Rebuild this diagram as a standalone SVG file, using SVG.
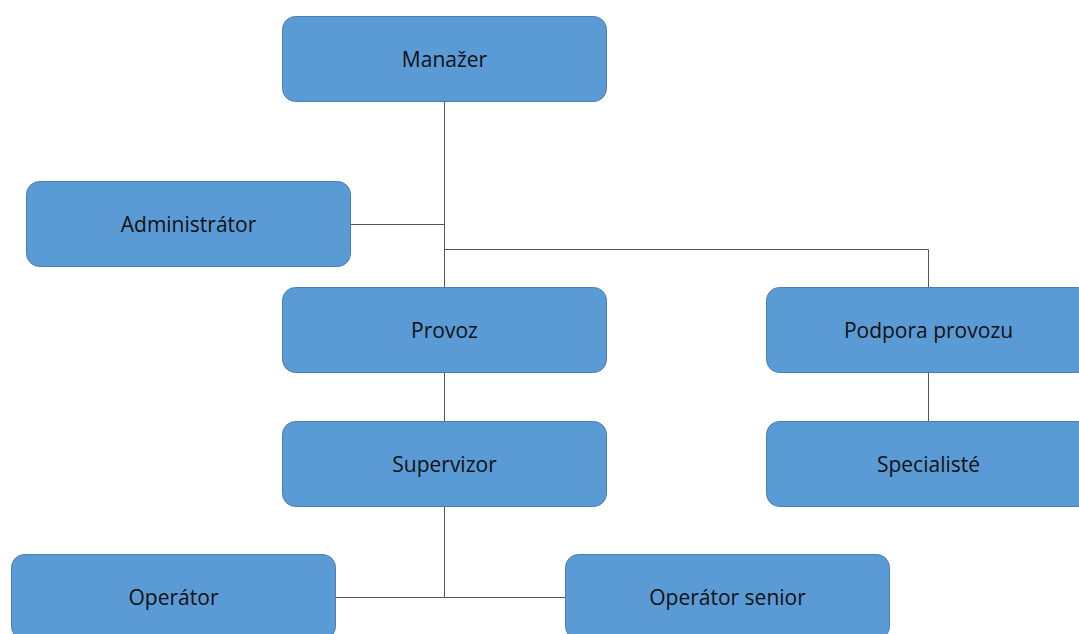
<svg xmlns="http://www.w3.org/2000/svg" width="1079" height="634" viewBox="0 0 1079 634">
<style>
.box{fill:#5B9BD5;stroke:#4A7EB0;stroke-width:1}
.lbl{font-family:"Open Sans","Liberation Sans",sans-serif;font-size:21px;fill:#111;text-anchor:middle;dominant-baseline:central}
.conn{stroke:#555;stroke-width:1;fill:none}
</style>
<rect width="1079" height="634" fill="#fff"/>
<g id="connectors">
<path class="conn" d="M444.5 101V287"/>
<path class="conn" d="M350 224.5H444.5"/>
<path class="conn" d="M444.5 249.5H928.5V287"/>
<path class="conn" d="M444.5 372V421"/>
<path class="conn" d="M928.5 372V421"/>
<path class="conn" d="M444.5 506V597.5"/>
<path class="conn" d="M335 597.5H565"/>
</g>
<g id="manazer"><rect class="box" x="282.5" y="16.5" width="324" height="85" rx="13"/><text class="lbl" x="444.5" y="59">Manažer</text></g>
<g id="administrator"><rect class="box" x="26.5" y="181.5" width="324" height="85" rx="13"/><text class="lbl" x="188.5" y="224">Administrátor</text></g>
<g id="provoz"><rect class="box" x="282.5" y="287.5" width="324" height="85" rx="13"/><text class="lbl" x="444.5" y="330">Provoz</text></g>
<g id="podpora"><rect class="box" x="766.5" y="287.5" width="324" height="85" rx="13"/><text class="lbl" x="928.5" y="330">Podpora provozu</text></g>
<g id="supervizor"><rect class="box" x="282.5" y="421.5" width="324" height="85" rx="13"/><text class="lbl" x="444.5" y="464">Supervizor</text></g>
<g id="specialiste"><rect class="box" x="766.5" y="421.5" width="324" height="85" rx="13"/><text class="lbl" x="928.5" y="464">Specialisté</text></g>
<g id="operator"><rect class="box" x="11.5" y="554.5" width="324" height="85" rx="13"/><text class="lbl" x="173.5" y="597">Operátor</text></g>
<g id="operator-senior"><rect class="box" x="565.5" y="554.5" width="324" height="85" rx="13"/><text class="lbl" x="727.5" y="597">Operátor senior</text></g>
</svg>
